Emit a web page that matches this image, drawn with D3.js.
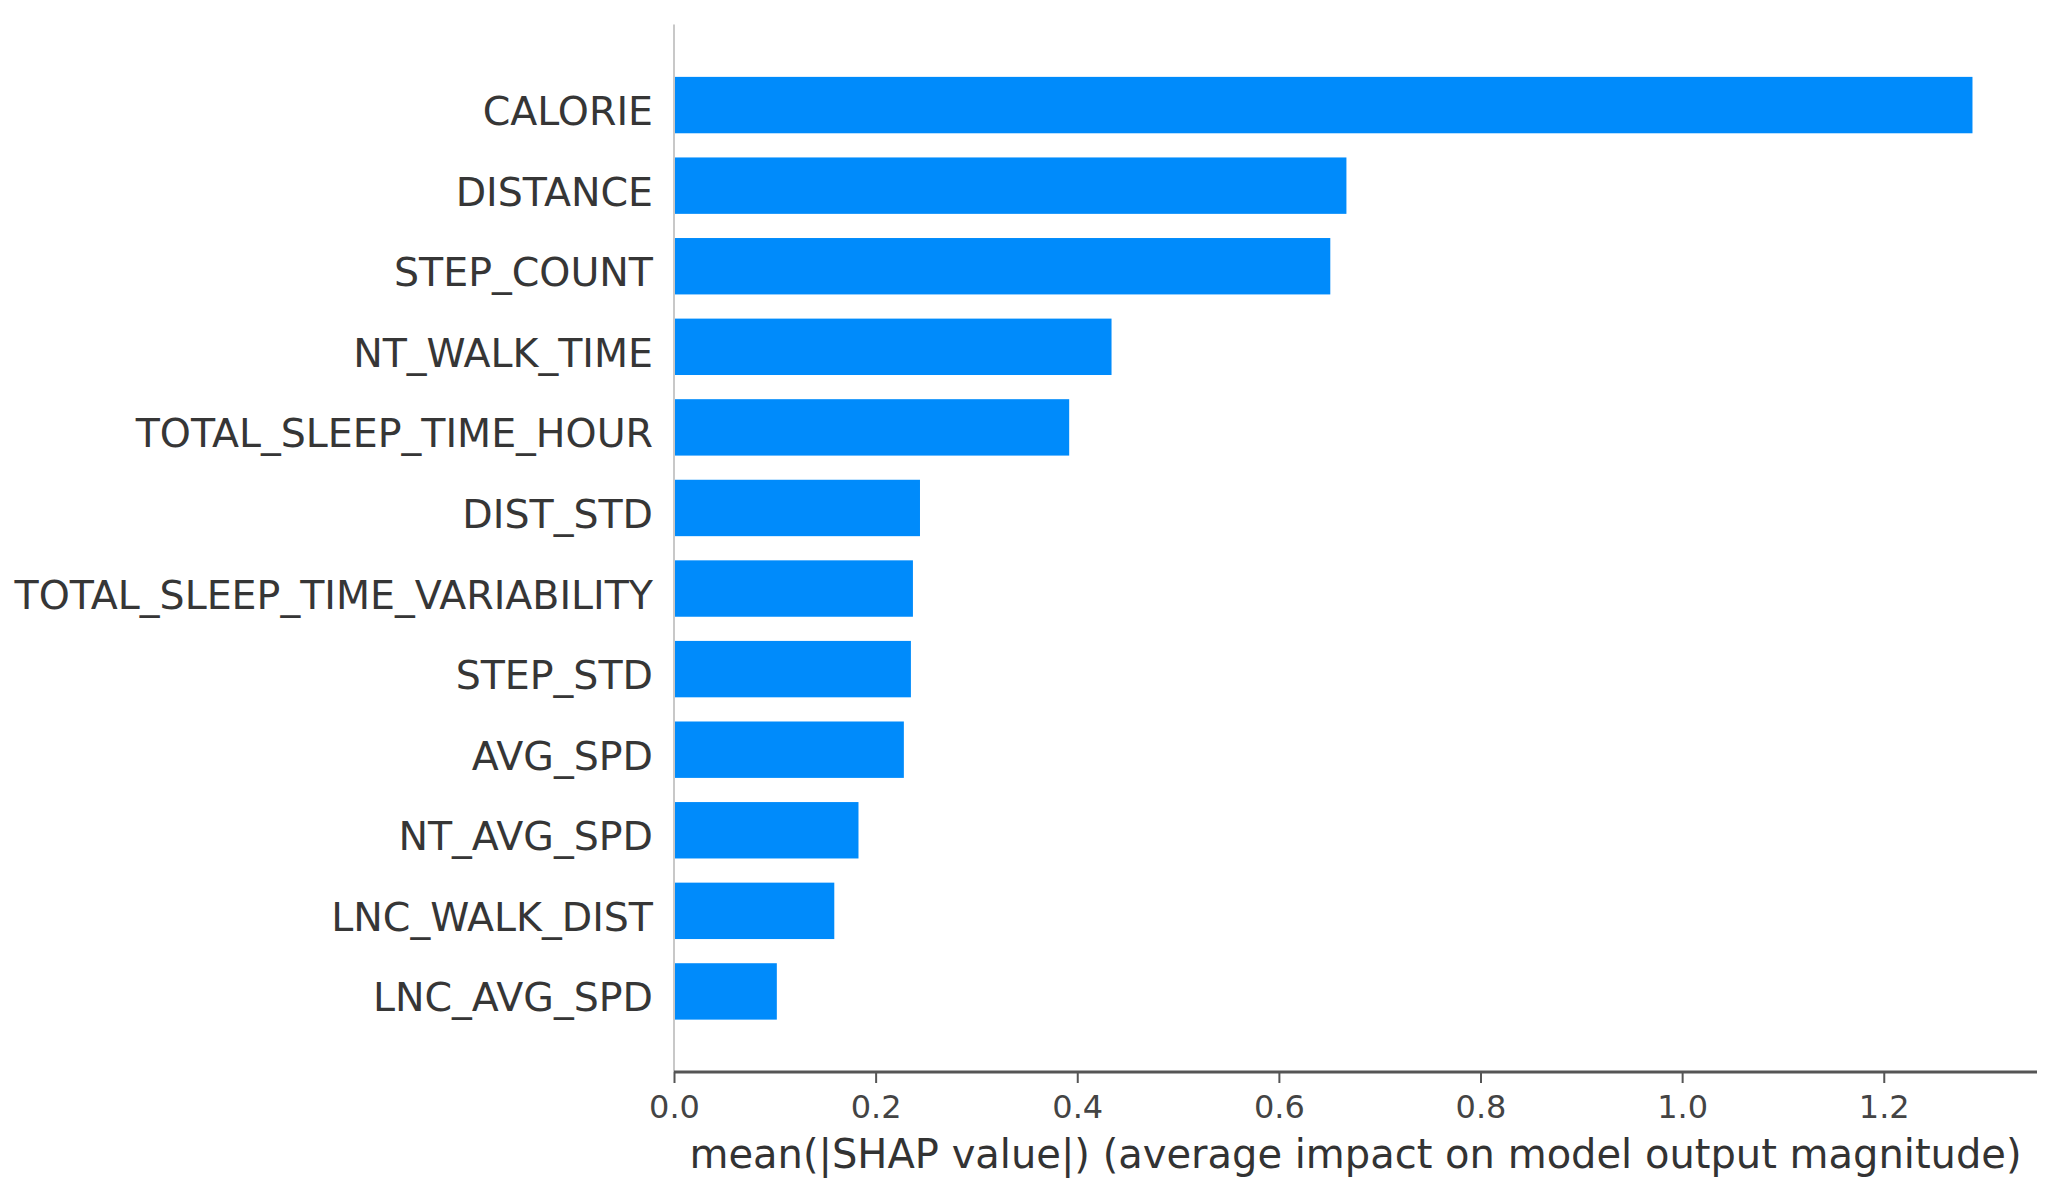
<!DOCTYPE html>
<html>
<head>
<meta charset="utf-8">
<script src="https://cdn.jsdelivr.net/npm/d3@7"></script>
<style>
  html, body { margin: 0; padding: 0; background: #fff; }
  svg { display: block; }
</style>
</head>
<body>
<svg id="chart" width="2051" height="1198"></svg>
<script>
const features = ["CALORIE", "DISTANCE", "STEP_COUNT", "NT_WALK_TIME", "TOTAL_SLEEP_TIME_HOUR",
  "DIST_STD", "TOTAL_SLEEP_TIME_VARIABILITY", "STEP_STD", "AVG_SPD", "NT_AVG_SPD",
  "LNC_WALK_DIST", "LNC_AVG_SPD"];
const meanAbsShap = [1.288, 0.667, 0.651, 0.434, 0.392, 0.244, 0.237, 0.235, 0.228, 0.183, 0.159, 0.102];
const xTicks = [0.0, 0.2, 0.4, 0.6, 0.8, 1.0, 1.2];
const xLabel = "mean(|SHAP value|) (average impact on model output magnitude)";

const svg = d3.select("#chart");
const mLeft = 674, mRight = 2037, mTop = 24.5, mBottom = 1072;

const x = d3.scaleLinear().domain([0, 1.352]).range([mLeft, mRight]);
// y positions: feature i at index i, axis spans -1 .. n
const y = d3.scaleLinear().domain([-1, features.length]).range([mTop, mBottom]);
const unit = y(1) - y(0);
const barH = unit * 0.7;

// bars
svg.append("g").selectAll("rect").data(features).join("rect")
  .attr("x", x(0))
  .attr("y", (d, i) => y(i) - barH / 2)
  .attr("width", (d, i) => x(meanAbsShap[i]) - x(0))
  .attr("height", barH)
  .attr("fill", "#008bfb");

// left spine (light)
svg.append("line")
  .attr("x1", x(0)).attr("x2", x(0))
  .attr("y1", mTop).attr("y2", mBottom)
  .attr("stroke", "#c8c8c8").attr("stroke-width", 2);

// feature labels
svg.append("g").selectAll("text").data(features).join("text")
  .attr("x", x(0) - 21)
  .attr("y", (d, i) => y(i) + 20)
  .attr("text-anchor", "end")
  .attr("font-family", "DejaVu Sans")
  .attr("font-size", 39.5)
  .attr("fill", "#363636")
  .text(d => d);

// bottom axis
const xAxis = d3.axisBottom(x).tickValues(xTicks).tickFormat(d3.format(".1f")).tickSize(11).tickPadding(12);
const gx = svg.append("g").attr("transform", `translate(0,${mBottom})`).call(xAxis);
gx.select(".domain").attr("d", `M${mLeft},0H${mRight}`).attr("stroke", "#555").attr("stroke-width", 3);
gx.selectAll(".tick line").attr("stroke", "#555").attr("stroke-width", 2);
gx.selectAll(".tick text")
  .attr("font-family", "DejaVu Sans").attr("font-size", 32).attr("fill", "#444");

// x label
svg.append("text")
  .attr("x", (mLeft + mRight) / 2)
  .attr("y", 1168)
  .attr("text-anchor", "middle")
  .attr("font-family", "DejaVu Sans")
  .attr("font-size", 40)
  .attr("fill", "#333")
  .text(xLabel);
</script>
</body>
</html>
